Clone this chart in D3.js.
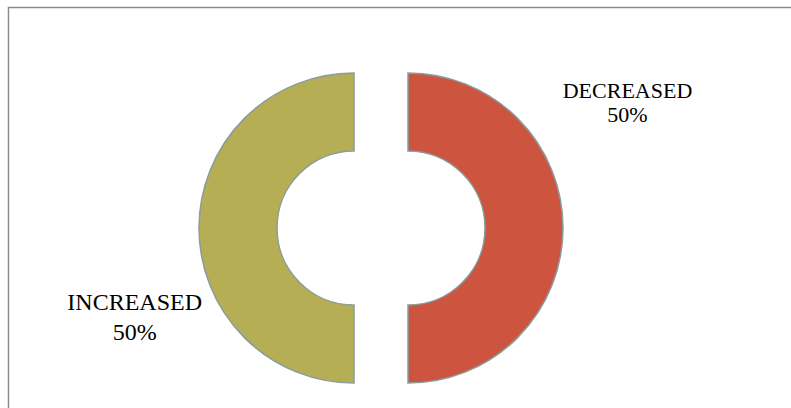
<!DOCTYPE html>
<html>
<head>
<meta charset="utf-8">
<script src="https://cdn.jsdelivr.net/npm/d3@7"></script>
<style>
  html, body { margin: 0; padding: 0; background: #fff; }
  svg { display: block; }
</style>
</head>
<body>
<div id="chart"></div>
<script>
// Share of respondents by change direction
const categories = ["DECREASED", "INCREASED"];
const values = [50, 50];
const percentLabels = ["50%", "50%"];
const colors = ["#CD5540", "#B5AE55"];

const width = 791, height = 408;
const cx = 381, cy = 228;
const outerR = 155, innerR = 77;
const explode = 27;

const svg = d3.select("#chart").append("svg")
  .attr("width", width).attr("height", height);

// chart area frame
svg.append("rect")
  .attr("x", 8.5).attr("y", 7.5)
  .attr("width", 800).attr("height", 420)
  .attr("fill", "none").attr("stroke", "#8c8c8c").attr("stroke-width", 1.5);

const pie = d3.pie().sort(null).value(d => d.value);
const arcs = pie(categories.map((c, i) => ({ name: c, value: values[i], pct: percentLabels[i], color: colors[i] })));
const arc = d3.arc().innerRadius(innerR).outerRadius(outerR);

const g = svg.append("g").attr("transform", `translate(${cx},${cy})`);

g.selectAll("path.slice")
  .data(arcs)
  .join("path")
  .attr("class", "slice")
  .attr("transform", d => {
    const a = (d.startAngle + d.endAngle) / 2;
    return `translate(${explode * Math.sin(a)},${-explode * Math.cos(a)})`;
  })
  .attr("d", arc)
  .attr("fill", d => d.data.color)
  .attr("stroke", "#8A9C9C")
  .attr("stroke-width", 1.5);

// data labels placed outside each half
const labelPos = {
  DECREASED: { x: 627.5, y: 97.7, size: 22, gap: 24.5 },
  INCREASED: { x: 134.7, y: 310, size: 24, gap: 30 }
};

arcs.forEach(d => {
  const p = labelPos[d.data.name];
  const t = svg.append("text")
    .attr("text-anchor", "middle")
    .attr("font-family", "'Liberation Serif', 'Times New Roman', serif")
    .attr("font-size", p.size)
    .attr("fill", "#000");
  t.append("tspan").attr("x", p.x).attr("y", p.y).text(d.data.name);
  t.append("tspan").attr("x", p.x).attr("y", p.y + p.gap).text(d.data.pct);
});
</script>
</body>
</html>
